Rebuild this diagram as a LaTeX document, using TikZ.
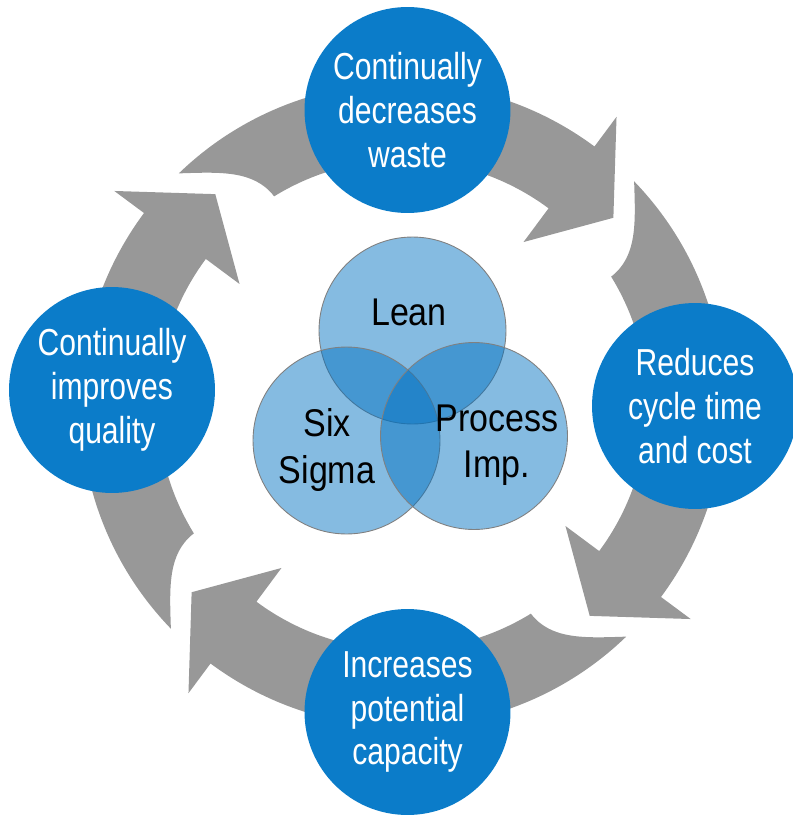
\documentclass[tikz,border=0pt]{standalone}
\usepackage{fontspec}
\setmainfont{Liberation Sans}
\newfontfamily\narrowsans{Liberation Sans}[FakeStretch=0.8]
\newfontfamily\vennsans{Liberation Sans}[FakeStretch=0.88]
\usetikzlibrary{calc}
\usetikzlibrary{positioning}
\definecolor{ringgray}{RGB}{152,152,152}
\definecolor{stageblue}{RGB}{11,124,201}
\definecolor{vennblue}{RGB}{0,112,192}

\begin{document}
\begin{tikzpicture}[%
  x=0.02cm, y=-0.02cm,
  stage/.style={circle, fill=stageblue, minimum size=4.12cm, inner sep=0pt,
    align=center, text=white, font=\narrowsans\fontsize{21.4}{24.9}\selectfont},
  venn/.style={circle, draw=black!50, line width=0.5pt, fill=vennblue,
    fill opacity=0.48, minimum size=3.74cm, inner sep=0pt},
  vennlabel/.style={align=center, inner sep=0pt,
    font=\vennsans\fontsize{22}{26.5}\selectfont},
]

  \useasboundingbox (0,0) rectangle (792,815);

  % four curved arrows around the ring, clockwise
  \foreach \turn in {0,-90,-180,-270}
    \fill[ringgray, shift={(402.5,405)}, rotate=\turn]
      (-134:322) arc[start angle=-134, end angle=-53.4, radius=322]
      -- (-53.4:359) -- (-41.6:282) -- (-53.4:203) -- (-53.4:245)
      arc[start angle=-53.4, end angle=-121.6, radius=245]
      .. controls (-122.3:278) and (-128.1:296) .. (-134:322) -- cycle;

  % outcomes
  \node[stage] (waste)    at (407.5,110) {Continually\\decreases\\waste};
  \node[stage] (cycle)    at (695,406)   {Reduces\\cycle time\\and cost};
  \node[stage] (capacity) at (407.5,712) {Increases\\potential\\capacity};
  \node[stage] (quality)  at (112,390)   {Continually\\improves\\quality};

  % methods
  \node[venn] (lean)     at (412.5,330.5) {};
  \node[venn] (sixsigma) at (346.5,440.5) {};
  \node[venn] (procimp)  at (474,436)     {};

  \node[vennlabel, anchor=base] (leantext) at (409,325) {Lean};
  \node[vennlabel] (sixsigmatext) at (327,450) {Six\\Sigma};
  \node[vennlabel] (procimptext)  at (497,445) {Process\\Imp.};

\end{tikzpicture}
\end{document}
